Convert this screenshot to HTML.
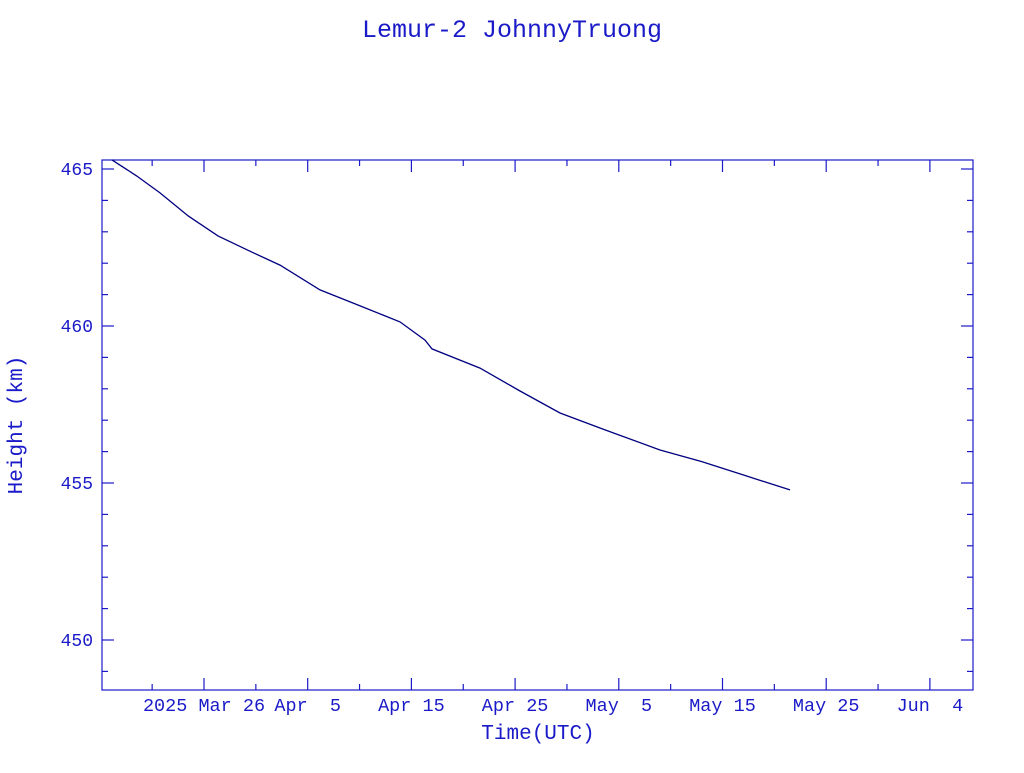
<!DOCTYPE html>
<html><head><meta charset="utf-8"><style>
html,body{margin:0;padding:0;background:#fff;}
svg text{font-family:"Liberation Mono",monospace;fill:#1a1ac8;}
</style></head><body>
<svg width="1024" height="768" xmlns="http://www.w3.org/2000/svg">
<text x="512" y="37" font-size="25" text-anchor="middle">Lemur-2 JohnnyTruong</text>
<g id="axes"></g>
<path id="line" fill="none" stroke="#000080" stroke-width="1.3"/>
<text x="538" y="739" font-size="21" text-anchor="middle">Time(UTC)</text>
<text x="22" y="425" font-size="21" text-anchor="middle" transform="rotate(-90 22 425)">Height (km)</text>
</svg>
<script>
// days relative to 2025 Mar 26
const days = [-8.87,-6.5,-4.24,-1.5,1.35,4.3,7.33,11.19,15,18.9,21.31,21.99,26.62,30.47,34.33,38.67,43.97,48,51.69,56.51];
const heights = [465.29,464.78,464.24,463.5,462.87,462.4,461.94,461.15,460.65,460.13,459.55,459.27,458.66,457.93,457.23,456.69,456.05,455.68,455.29,454.78];
const xTickDays = [0,10,20,30,40,50,60,70];
const xTickLabels = ["2025 Mar 26","Apr  5","Apr 15","Apr 25","May  5","May 15","May 25","Jun  4"];
const yTicks = [450,455,460,465];

const L=102,R=973,T=160,B=690;
const xs=d=>204+d*10.37;
const ys=v=>169+(465-v)*31.4;
const NS="http://www.w3.org/2000/svg";
const ax=document.getElementById('axes');
const col="#1a1ac8";
function ln(x1,y1,x2,y2,name){
  const e=document.createElementNS(NS,'line');
  e.setAttribute('x1',x1);e.setAttribute('y1',y1);e.setAttribute('x2',x2);e.setAttribute('y2',y2);
  e.setAttribute('stroke',col);e.setAttribute('stroke-width','1.2');
  
  
  ax.appendChild(e);
}
const fr=document.createElementNS(NS,'rect');
fr.setAttribute('x',L);fr.setAttribute('y',T);fr.setAttribute('width',R-L);fr.setAttribute('height',B-T);
fr.setAttribute('fill','none');fr.setAttribute('stroke',col);fr.setAttribute('stroke-width','1.2');


ax.appendChild(fr);
for(let v=449;v<=465;v++){
  const y=ys(v); if(y<T||y>B) continue;
  const len=(v%5===0)?12:6;
  ln(L,y,L+len,y,'y-tick');ln(R-len,y,R,y,'y-tick-right');
}
yTicks.forEach(v=>{
  const t=document.createElementNS(NS,'text');
  t.setAttribute('x',L-9);t.setAttribute('y',ys(v)+6);t.setAttribute('font-size','18');t.setAttribute('text-anchor','end');
  t.textContent=v;
  
  
  ax.appendChild(t);
});
for(let d=-5;d<=75;d+=5){
  const x=xs(d); if(x<L||x>R) continue;
  const len=(d%10===0)?12:6;
  ln(x,B,x,B-len,'x-tick');ln(x,T,x,T+len,'x-tick-top');
}
xTickDays.forEach((d,i)=>{
  const t=document.createElementNS(NS,'text');
  t.setAttribute('x',xs(d));t.setAttribute('y',711);t.setAttribute('font-size','18.5');t.setAttribute('text-anchor','middle');
  t.setAttribute('xml:space','preserve');t.style.whiteSpace='pre';
  t.textContent=xTickLabels[i];
  
  
  ax.appendChild(t);
});
document.getElementById('line').setAttribute('d',days.map((d,i)=>(i?'L':'M')+xs(d).toFixed(1)+','+ys(heights[i]).toFixed(1)).join(' '));
</script>
</body></html>
